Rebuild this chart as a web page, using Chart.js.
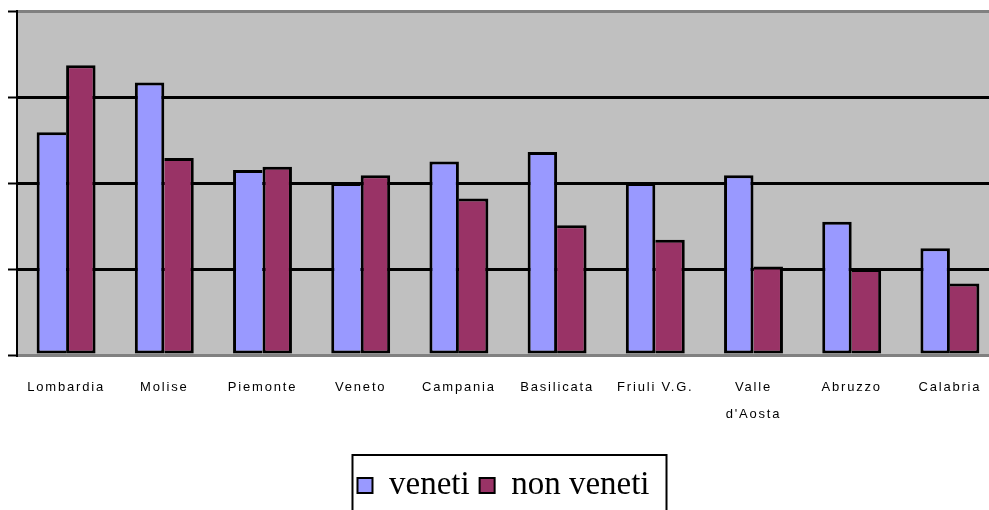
<!DOCTYPE html>
<html>
<head>
<meta charset="utf-8">
<script src="https://cdn.jsdelivr.net/npm/chart.js@4/dist/chart.umd.min.js"></script>
<style>
  html, body { margin: 0; padding: 0; background: #ffffff; overflow: hidden; }
  #wrap { width: 1000px; height: 530px; }
</style>
</head>
<body>
<div id="wrap"><canvas id="c" width="1000" height="530"></canvas></div>
<script>
const categories = ['Lombardia', 'Molise', 'Piemonte', 'Veneto', 'Campania', 'Basilicata', 'Friuli V.G.', ['Valle', "d'Aosta"], 'Abruzzo', 'Calabria'];
const veneti    = [2.59, 3.17, 2.15, 2.00, 2.25, 2.36, 2.00, 2.09, 1.55, 1.24];
const nonVeneti = [3.37, 2.29, 2.19, 2.09, 1.82, 1.51, 1.34, 1.03, 1.00, 0.83];
const seriesNames = ['veneti', 'non veneti'];
const yTicks = [0, 1, 2, 3, 4];

const plotBg = {
  id: 'plotBg',
  beforeDraw(chart) {
    const {ctx, chartArea: a} = chart;
    ctx.save();
    ctx.fillStyle = '#c0c0c0';
    ctx.fillRect(a.left, a.top, a.right - a.left, a.bottom - a.top);
    ctx.restore();
  }
};

const tickSpacing = {
  id: 'tickSpacing',
  afterLayout(chart) {
    chart._layers.push({z: -0.7, _idx: 1000, draw() { chart.ctx.letterSpacing = '1.8px'; }});
    chart._layers.push({z: -0.5, _idx: 1001, draw() { chart.ctx.letterSpacing = '0px'; }});
  }
};

const legendFrame = {
  id: 'legendFrame',
  afterDraw(chart) {
    const lg = chart.legend;
    if (!lg || !lg.legendHitBoxes || !lg.legendHitBoxes.length) return;
    const hb = lg.legendHitBoxes;
    const first = hb[0], last = hb[hb.length - 1];
    const left = first.left - 5;
    const right = last.left + last.width + 17;
    const top = first.top - 14;
    const {ctx} = chart;
    ctx.save();
    ctx.strokeStyle = '#000';
    ctx.lineWidth = 2;
    ctx.strokeRect(left, top, right - left, chart.height + 20 - top);
    ctx.restore();
  }
};

function bw(mine, other, side) {
  return (ctx) => {
    const i = ctx.dataIndex;
    if (i === undefined) return 2;
    const taller = mine[i] >= other[i];
    const o = {top: 3, bottom: 3, left: 3, right: 3};
    if (side === 'right') o.right = taller ? 3 : 0;
    else o.left = mine[i] > other[i] ? 3 : 0;
    return o;
  };
}

new Chart(document.getElementById('c'), {
  type: 'bar',
  data: {
    labels: categories,
    datasets: [
      { label: seriesNames[0], data: veneti, backgroundColor: '#9999ff', borderColor: '#000000',
        borderWidth: bw(veneti, nonVeneti, 'right'), borderSkipped: false,
        categoryPercentage: 0.6, barPercentage: 1.0 },
      { label: seriesNames[1], data: nonVeneti, backgroundColor: '#993366', borderColor: '#000000',
        borderWidth: bw(nonVeneti, veneti, 'left'), borderSkipped: false,
        categoryPercentage: 0.6, barPercentage: 1.0 }
    ]
  },
  options: {
    responsive: false,
    animation: false,
    events: [],
    layout: { padding: { left: 8, right: 1, top: 11, bottom: 18 } },
    scales: {
      x: {
        grid: { display: false, drawTicks: false },
        border: { display: true, color: '#808080', width: 3 },
        ticks: {
          z: -0.6,
          color: '#000000',
          font: { family: 'Liberation Sans', size: 13, lineHeight: 2.08 },
          padding: 19,
          maxRotation: 0,
          minRotation: 0,
          autoSkip: false
        },
        afterFit(scale) { scale.height = 104; }
      },
      y: {
        min: 0,
        max: 4,
        afterBuildTicks(scale) { scale.ticks = yTicks.map(v => ({value: v})); },
        ticks: { display: false, stepSize: 1 },
        grid: {
          drawTicks: true,
          tickLength: 9,
          tickColor: '#000000',
          tickWidth: 2,
          color: (c) => (c.tick && (c.tick.value === 4 || c.tick.value === 0)) ? '#808080' : '#000000',
          lineWidth: 3
        },
        border: { display: true, color: '#000000', width: 2 }
      }
    },
    plugins: {
      tooltip: { enabled: false },
      legend: {
        position: 'bottom',
        labels: {
          color: '#000000',
          font: { family: 'Liberation Serif', size: 33 },
          boxWidth: 15,
          boxHeight: 15,
          padding: 10,
          generateLabels(chart) {
            const items = Chart.defaults.plugins.legend.labels.generateLabels(chart);
            items.forEach(it => { it.lineWidth = 2; it.strokeStyle = '#000000'; });
            return items;
          }
        }
      }
    }
  },
  plugins: [plotBg, tickSpacing, legendFrame]
});
</script>
</body>
</html>
